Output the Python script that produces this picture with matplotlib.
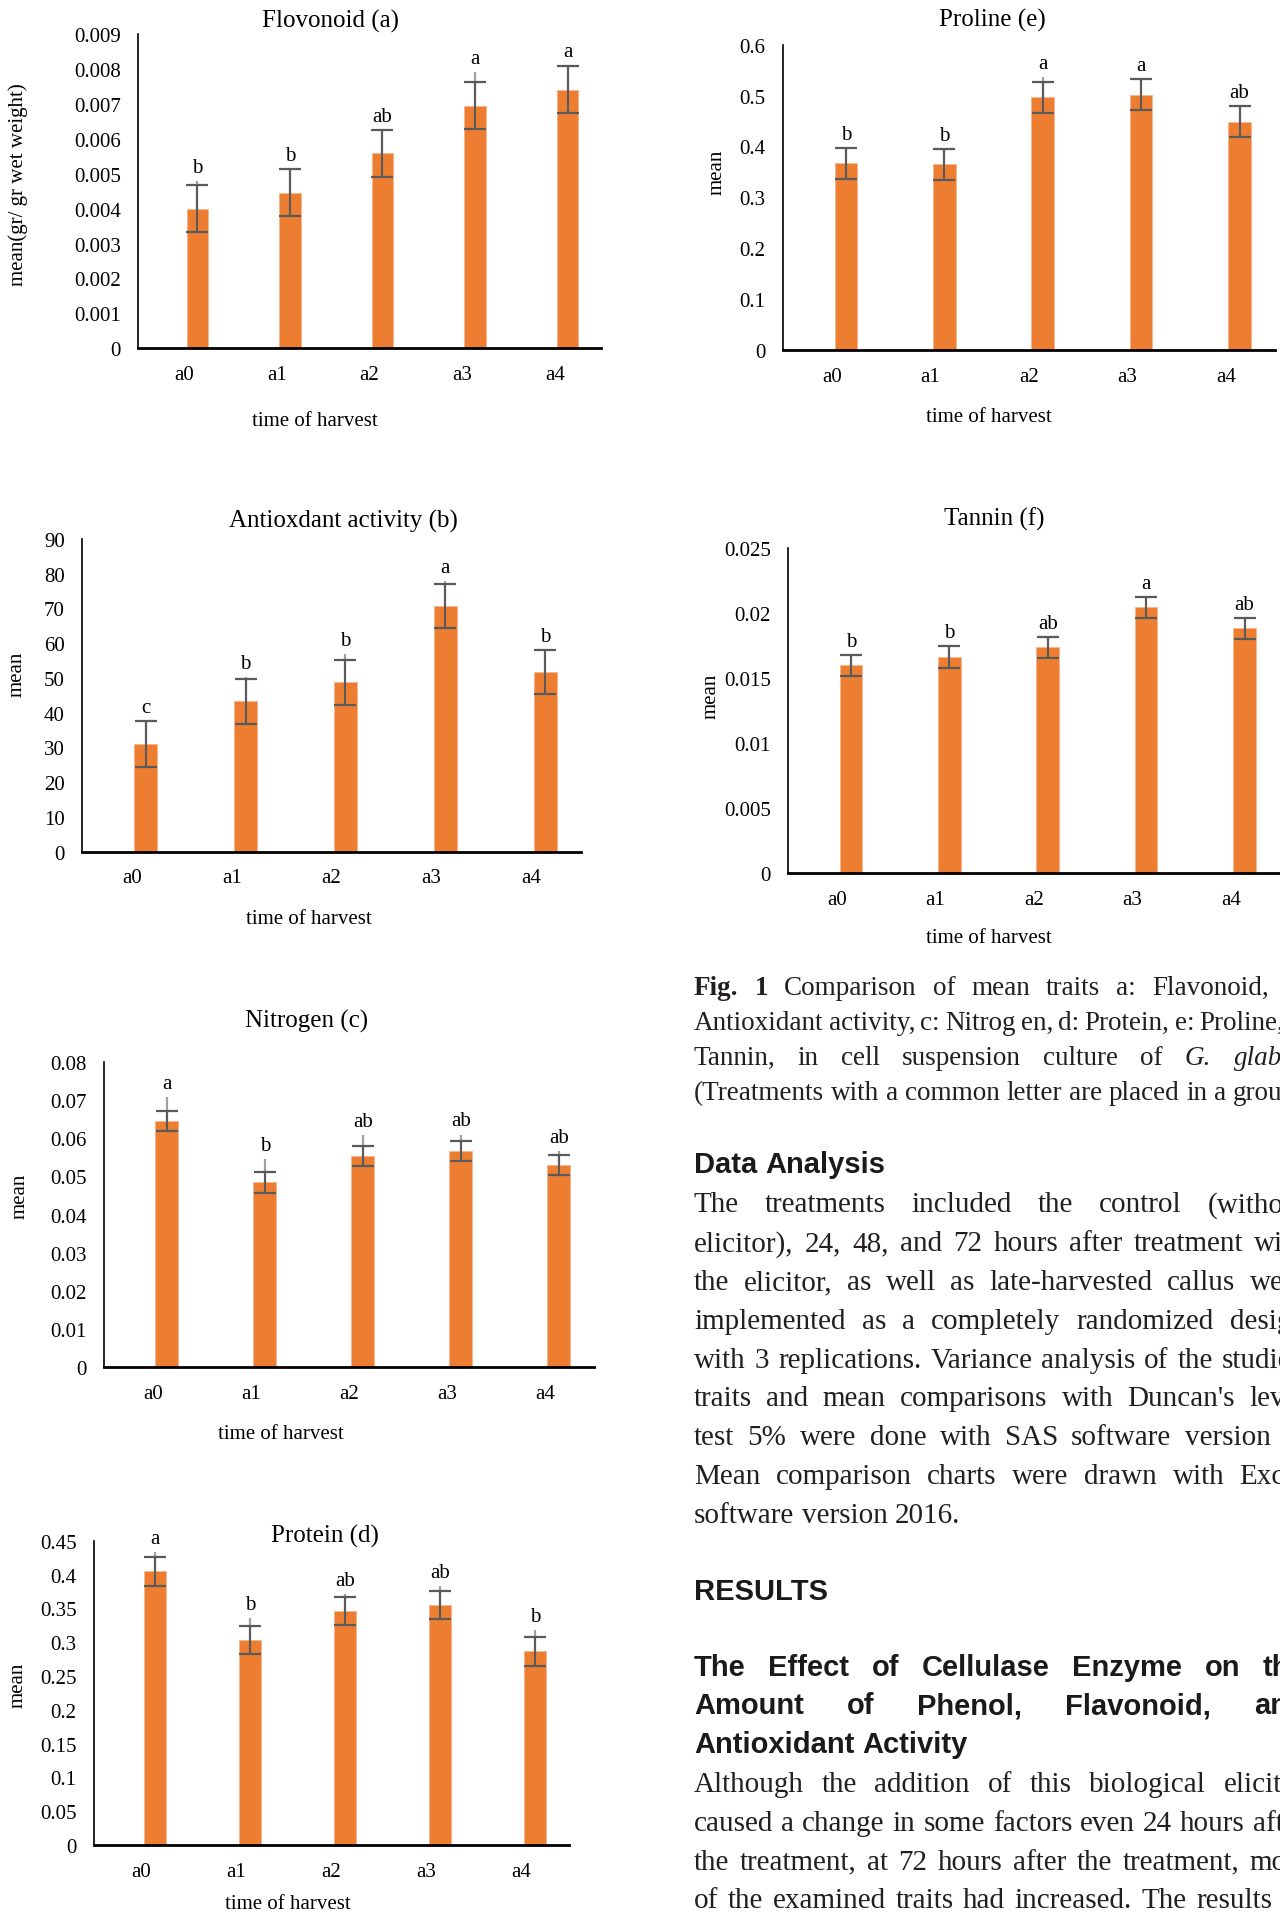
import numpy as np
import matplotlib
matplotlib.use("Agg")
import matplotlib.pyplot as plt
from matplotlib.ticker import MultipleLocator, FuncFormatter

# categories (time of harvest)
cats = ["a0", "a1", "a2", "a3", "a4"]

# Flavonoid (a)
flav = [0.0040, 0.00445, 0.00558, 0.00695, 0.00741]
flav_err = [0.00067, 0.00067, 0.00067, 0.00067, 0.00067]
flav_hi = [0.0048, 0.0051, 0.0062, 0.0079, 0.0081]
flav_let = ["b", "b", "ab", "a", "a"]

# Antioxidant activity (b)
anti = [31.0, 43.3, 48.7, 70.7, 51.7]
anti_err = [6.5, 6.5, 6.4, 6.4, 6.4]
anti_hi = [37.6, 50.2, 56.8, 78.0, 58.1]
anti_let = ["c", "b", "b", "a", "b"]

# Nitrogen (c)
nitro = [0.0645, 0.0485, 0.0554, 0.0567, 0.0530]
nitro_err = [0.0027, 0.0027, 0.0027, 0.0027, 0.0027]
nitro_hi = [0.0707, 0.0545, 0.0609, 0.0610, 0.0568]
nitro_let = ["a", "b", "ab", "ab", "ab"]

# Protein (d)
prot = [0.4046, 0.3031, 0.346, 0.3549, 0.2863]
prot_err = [0.021, 0.021, 0.021, 0.021, 0.021]
prot_hi = [0.4327, 0.3356, 0.371, 0.3834, 0.318]
prot_let = ["a", "b", "ab", "ab", "b"]

# Proline (e)
prol = [0.367, 0.365, 0.4965, 0.502, 0.449]
prol_err = [0.030, 0.030, 0.031, 0.030, 0.030]
prol_hi = [0.397, 0.395, 0.536, 0.532, 0.479]
prol_let = ["b", "b", "a", "a", "ab"]

# Tannin (f)
tann = [0.01598, 0.01665, 0.01737, 0.02044, 0.01883]
tann_err = [0.0008, 0.00085, 0.0008, 0.0008, 0.0008]
tann_let = ["b", "b", "ab", "a", "ab"]

# page text
caption = [
    "*Fig. *1 Comparison of mean traits a: Flavonoid, b:",
    "Antioxidant activity, c: Nitrog en, d: Protein, e: Proline, f:",
    "Tannin, in cell suspension culture of _G. _glabra",
    "(Treatments with a common letter are placed in a group)",
]
analysis = [
    "The treatments included the control (without",
    "elicitor), 24, 48, and 72 hours after treatment with",
    "the elicitor, as well as late-harvested callus were",
    "implemented as a completely randomized design",
    "with 3 replications. Variance analysis of the studied",
    "traits and mean comparisons with Duncan's level",
    "test 5% were done with SAS software version 9.",
    "Mean comparison charts were drawn with Excel",
    "software version 2016.",
]
heading = [
    "The Effect of Cellulase Enzyme on the",
    "Amount of Phenol, Flavonoid, and",
    "Antioxidant Activity",
]
results = [
    "Although the addition of this biological elicitor",
    "caused a change in some factors even 24 hours after",
    "the treatment, at 72 hours after the treatment, most",
    "of the examined traits had increased. The results of",
]

plt.rcParams["font.family"] = ["Liberation Serif", "DejaVu Serif"]

W, H = 1280, 1915
ORANGE = "#ED7D31"
fig = plt.figure(figsize=(W / 100, H / 100), dpi=100)
renderer = fig.canvas.get_renderer()


def ftext(x, y, s, **kw):
    return fig.text(x / W, 1 - y / H, s, **kw)


def panel(box, vals, errs, hi, letters, ymax, step, title, title_xy,
          ylabel, ylabel_xy, xlabel_xy):
    left, top, right, bottom = box
    ax = fig.add_axes([left / W, 1 - bottom / H, (right - left) / W, (bottom - top) / H])
    x = np.arange(len(cats))
    xb = x + 0.14
    vals = np.array(vals)
    errs = np.array(errs)
    tops = vals + errs
    hi = tops if hi is None else np.array(hi)
    ax.bar(xb, vals, width=0.23, color=ORANGE, edgecolor="#f6b58c", linewidth=0.6, zorder=2)
    # lighter second whisker seen above the caps
    ax.vlines(xb, vals, hi, color="#a0a0a0", lw=1.6, zorder=3)
    ax.errorbar(xb, vals, yerr=errs, fmt="none", ecolor="#5a5a5a", elinewidth=1.5,
                capsize=8, capthick=1.6, zorder=4)
    for i, l in enumerate(letters):
        ax.annotate(l, (xb[i], max(tops[i], hi[i])), xytext=(0, 6.5),
                    textcoords="offset points", ha="center", va="baseline", fontsize=15)
    ax.set_xlim(-0.5, 4.5)
    ax.set_ylim(0, ymax)
    ax.set_xticks(x)
    ax.set_xticklabels(cats)
    ax.yaxis.set_major_locator(MultipleLocator(step))
    ax.yaxis.set_major_formatter(FuncFormatter(lambda v, p: "%g" % round(v, 6)))
    ax.tick_params(length=0, labelsize=15)
    ax.tick_params(axis="y", pad=12.5)
    ax.tick_params(axis="x", pad=12)
    for s in ["top", "right"]:
        ax.spines[s].set_visible(False)
    ax.spines["left"].set_linewidth(1.2)
    ax.spines["bottom"].set_linewidth(2.0)
    ax.patch.set_alpha(0)
    ftext(*title_xy, title, fontsize=18, ha="center", va="center")
    ftext(*ylabel_xy, ylabel, fontsize=15, ha="center", va="center", rotation=90)
    ftext(*xlabel_xy, "time of harvest", fontsize=15, ha="center", va="center")
    return ax


panel((138, 35, 601, 349.3), flav, flav_err, flav_hi, flav_let, 0.009, 0.001,
      "Flovonoid (a)", (330, 21), "mean(gr/ gr wet weight)", (18, 185), (315, 421))
panel((783, 45.7, 1275, 351), prol, prol_err, prol_hi, prol_let, 0.6, 0.1,
      "Proline (e)", (992, 20), "mean", (717, 172), (989, 418))
panel((82, 540, 581, 852.7), anti, anti_err, anti_hi, anti_let, 90, 10,
      "Antioxdant activity (b)", (343, 521), "mean", (17, 674), (309, 920))
panel((788, 549, 1280, 874.3), tann, tann_err, None, tann_let, 0.025, 0.005,
      "Tannin (f)", (994, 519), "mean", (711, 696), (989, 939))
panel((104, 1063, 594, 1368.3), nitro, nitro_err, nitro_hi, nitro_let, 0.08, 0.01,
      "Nitrogen (c)", (307, 1021), "mean", (20, 1196), (281, 1435))
panel((94, 1541.7, 569, 1846), prot, prot_err, prot_hi, prot_let, 0.45, 0.05,
      "Protein (d)", (325, 1536), "mean", (18, 1685), (288, 1905))

# justified text column, running past the right edge like the page crop
TX0, TX1 = 694, 1306
BODY = "#231f20"


def put_line(line, y, size, justify, family="Liberation Serif", weight="normal",
             color=BODY):
    words = line.split(" ")
    items = []
    for w in words:
        wt, st = weight, "normal"
        if w.startswith("*"):
            w, wt = w[1:], "bold"
        elif w.startswith("_"):
            w, st = w[1:], "italic"
        t = ftext(0, y, w, fontsize=size, fontweight=wt, fontstyle=st,
                  family=family, color=color, va="baseline", ha="left")
        items.append((t, t.get_window_extent(renderer).width))
    total = sum(wd for _, wd in items)
    em = size * 100 / 72
    gap = 0.25 * em if family == "Liberation Serif" else 0.278 * em
    if justify and len(items) > 1:
        gap = (TX1 - TX0 - total) / (len(items) - 1)
    x = TX0
    for t, wd in items:
        t.set_x(x / W)
        x += wd + gap


for i, ln in enumerate(caption):
    put_line(ln, 994.7 + 35 * i, 19.5, i < 3)

put_line("Data Analysis", 1173, 21, False, family="Liberation Sans",
         weight="bold", color="#1a1a1a")
for i, ln in enumerate(analysis):
    put_line(ln, 1212.5 + 38.8 * i, 21, i < len(analysis) - 1)

put_line("RESULTS", 1600.5, 21, False, family="Liberation Sans",
         weight="bold", color="#1a1a1a")
for i, ln in enumerate(heading):
    put_line(ln, 1675.5 + 39 * i, 21, i < 2, family="Liberation Sans",
             weight="bold", color="#1a1a1a")
for i, ln in enumerate(results):
    put_line(ln, 1792.5 + 38.6 * i, 21, True)

fig.savefig("out.png", dpi=100, facecolor="white")
